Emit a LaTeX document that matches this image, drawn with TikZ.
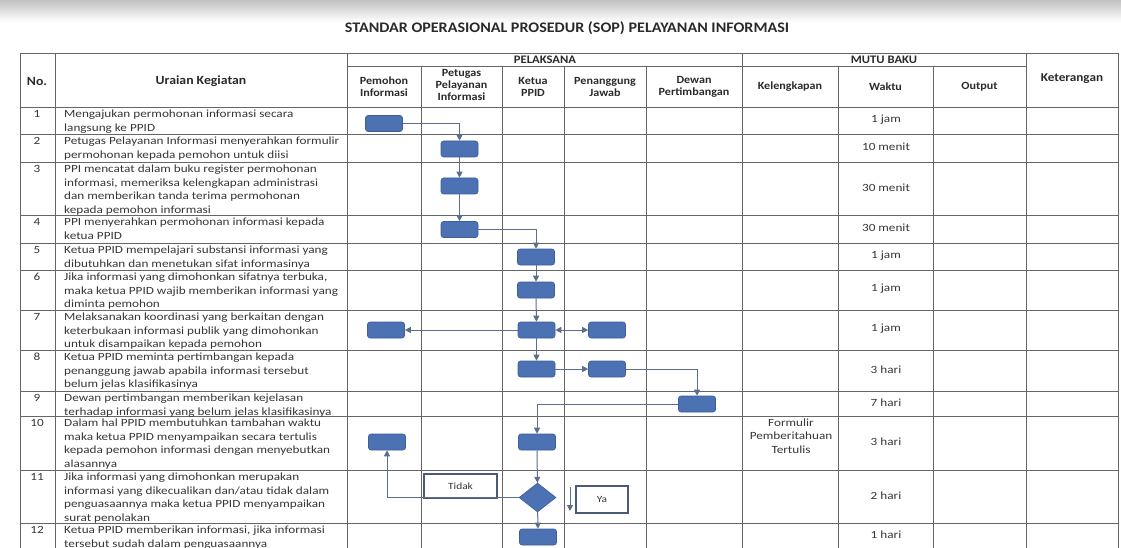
\documentclass[tikz,border=0pt]{standalone}
\usepackage{fontspec}
\setmainfont{Carlito}[FakeStretch=1.1]
\newfontfamily\bodyfont{Carlito}[FakeStretch=1.2]
\usetikzlibrary{arrows.meta,shapes.geometric}
\definecolor{boxblue}{HTML}{4C72B3}
\definecolor{boxedge}{HTML}{3D5E98}
\definecolor{conn}{HTML}{5C6E8C}
\definecolor{gridc}{HTML}{666666}
\definecolor{txt}{HTML}{363636}
\definecolor{hdr}{HTML}{2A2A2A}
\definecolor{labedge}{HTML}{4A5A78}
\begin{document}
\begin{tikzpicture}[x=1pt,y=-1pt,
  gridline/.style={draw=gridc,line width=0.8pt},
  hd/.style={font=\bfseries\fontsize{11}{11.7}\selectfont,text=hdr,align=center,inner sep=0},
  hdbig/.style={font=\bfseries\fontsize{12.5}{14}\selectfont,text=hdr,align=center,inner sep=0},
  ur/.style={font=\bodyfont\fontsize{11}{13.5}\selectfont,text=txt,align=left,anchor=north west,inner sep=0},
  num/.style={font=\bodyfont\fontsize{11}{13.5}\selectfont,text=txt,anchor=north,inner sep=0},
  wk/.style={font=\bodyfont\fontsize{11}{13.3}\selectfont,text=txt,align=center,inner sep=0},
  fbox/.style={rectangle,rounded corners=2.5pt,minimum width=37pt,minimum height=16pt,inner sep=0,fill=boxblue,draw=boxedge,line width=0.6pt},
  dec/.style={diamond,minimum width=37pt,minimum height=29pt,inner sep=0,fill=boxblue,draw=boxedge,line width=0.6pt},
  lab/.style={rectangle,draw=labedge,line width=1.4pt,fill=white,inner sep=0,font=\bodyfont\fontsize{9.5}{10}\selectfont,text=txt},
  arr/.style={draw=conn,line width=1pt,-{Triangle[length=6pt,width=6pt]}},
  darr/.style={draw=conn,line width=1pt,{Triangle[length=6pt,width=6pt]}-{Triangle[length=6pt,width=6pt]}}
]
\useasboundingbox (0,0) rectangle (1121,548);
\clip (0,0) rectangle (1121,548);
\shade[top color=black!24,bottom color=white] (0,0) rectangle (1121,22);

\node[font=\bfseries\fontsize{14.6}{16}\selectfont,text=hdr,inner sep=0] (title) at (567,28) {STANDAR OPERASIONAL PROSEDUR (SOP) PELAYANAN INFORMASI};

% grid
\draw[gridline] (20,53) -- (1118,53);
\draw[gridline] (347,66) -- (1026,66);
\foreach \yy in {107,134,162,215,243,270,310,350,391,416,470,523}
  \draw[gridline] (20,\yy) -- (1118,\yy);
\foreach \xx in {20,55,347,742,1026,1118}
  \draw[gridline] (\xx,53) -- (\xx,560);
\foreach \xx in {421,502,564,646,838,933}
  \draw[gridline] (\xx,66) -- (\xx,560);

% header
\node[hdbig] (hno) at (37,81) {No.};
\node[hdbig] (hur) at (201,81) {Uraian Kegiatan};
\node[hd,font=\bfseries\fontsize{11.5}{12}\selectfont] (hpel) at (545,60) {PELAKSANA};
\node[hd,font=\bfseries\fontsize{11.5}{12}\selectfont] (hmutu) at (884,60) {MUTU BAKU};
\node[hd] (hpem) at (384,87) {Pemohon\\Informasi};
\node[hd] (hpet) at (461.5,85) {Petugas\\Pelayanan\\Informasi};
\node[hd] (hket) at (533,87) {Ketua\\PPID};
\node[hd] (hpen) at (605,87) {Penanggung\\Jawab};
\node[hd] (hdew) at (694,87) {Dewan\\Pertimbangan};
\node[hd] (hkel) at (790,87) {Kelengkapan};
\node[hd] (hwak) at (885.5,87) {Waktu};
\node[hd] (hout) at (979.5,87) {Output};
\node[hdbig,font=\bfseries\fontsize{12}{14}\selectfont] (hktr) at (1072,79) {Keterangan};

% numbers
\node[num] (n1) at (37,110) {1};
\node[num] (n2) at (37,137) {2};
\node[num] (n3) at (37,165) {3};
\node[num] (n4) at (37,218) {4};
\node[num] (n5) at (37,246) {5};
\node[num] (n6) at (37,273) {6};
\node[num] (n7) at (37,313) {7};
\node[num] (n8) at (37,353) {8};
\node[num] (n9) at (37,394) {9};
\node[num] (n10) at (37,419) {10};
\node[num] (n11) at (37,473) {11};
\node[num] (n12) at (37,526) {12};

% descriptions
\node[ur] (u1) at (64,110) {Mengajukan permohonan informasi secara\\langsung ke PPID};
\node[ur] (u2) at (64,137) {Petugas Pelayanan Informasi menyerahkan formulir\\permohonan kepada pemohon untuk diisi};
\node[ur] (u3) at (64,165) {PPI mencatat dalam buku register permohonan\\informasi, memeriksa kelengkapan administrasi\\dan memberikan tanda terima permohonan\\kepada pemohon informasi};
\node[ur] (u4) at (64,218) {PPI menyerahkan permohonan informasi kepada\\ketua PPID};
\node[ur] (u5) at (64,246) {Ketua PPID mempelajari substansi informasi yang\\dibutuhkan dan menetukan sifat informasinya};
\node[ur] (u6) at (64,273) {Jika informasi yang dimohonkan sifatnya terbuka,\\maka ketua PPID wajib memberikan informasi yang\\diminta pemohon};
\node[ur] (u7) at (64,313) {Melaksanakan koordinasi yang berkaitan dengan\\keterbukaan informasi publik yang dimohonkan\\untuk disampaikan kepada pemohon};
\node[ur] (u8) at (64,353) {Ketua PPID meminta pertimbangan kepada\\penanggung jawab apabila informasi tersebut\\belum jelas klasifikasinya};
\node[ur] (u9) at (64,394) {Dewan pertimbangan memberikan kejelasan\\terhadap informasi yang belum jelas klasifikasinya};
\node[ur] (u10) at (64,419) {Dalam hal PPID membutuhkan tambahan waktu\\maka ketua PPID menyampaikan secara tertulis\\kepada pemohon informasi dengan menyebutkan\\alasannya};
\node[ur] (u11) at (64,473) {Jika informasi yang dimohonkan merupakan\\informasi yang dikecualikan dan/atau tidak dalam\\penguasaannya maka ketua PPID menyampaikan\\surat penolakan};
\node[ur] (u12) at (64,526) {Ketua PPID memberikan informasi, jika informasi\\tersebut sudah dalam penguasaannya};

% waktu
\node[wk] (w1) at (886,119.5) {1 jam};
\node[wk] (w2) at (886,147) {10 menit};
\node[wk] (w3) at (886,187.5) {30 menit};
\node[wk] (w4) at (886,228) {30 menit};
\node[wk] (w5) at (886,255.5) {1 jam};
\node[wk] (w6) at (886,289) {1 jam};
\node[wk] (w7) at (886,329) {1 jam};
\node[wk] (w8) at (886,369.5) {3 hari};
\node[wk] (w9) at (886,402.5) {7 hari};
\node[wk] (w10) at (886,442) {3 hari};
\node[wk] (w11) at (886,495.5) {2 hari};
\node[wk] (w12) at (886,535) {1 hari};
\node[wk] (k10) at (791,436) {Formulir\\Pemberitahuan\\Tertulis};

% flow boxes
\node[fbox] (b1) at (384,123.5) {};
\node[fbox] (b2) at (459.5,149) {};
\node[fbox] (b3) at (459.5,186) {};
\node[fbox] (b4) at (459.5,229.5) {};
\node[fbox] (b5) at (536,257) {};
\node[fbox] (b6) at (536,290) {};
\node[fbox] (b7l) at (386,330) {};
\node[fbox] (b7) at (536.5,330) {};
\node[fbox] (b7r) at (607,330) {};
\node[fbox] (b8) at (536.5,369) {};
\node[fbox] (b8r) at (607,369) {};
\node[fbox] (b9) at (697,404) {};
\node[fbox] (b10l) at (387,442) {};
\node[fbox] (b10) at (537,442) {};
\node[dec] (d11) at (537.5,497.5) {};
\node[fbox] (b12) at (538,537) {};
\node[lab,minimum width=73pt,minimum height=24pt] (tidak) at (460.5,486) {Tidak};
\node[lab,minimum width=52pt,minimum height=27pt] (ya) at (602,499.5) {Ya};
\coordinate (ya1) at (570,487);
\coordinate (ya2) at (570,511);

% connectors
\draw[arr] (b1.east) -| (b2.north);
\draw[arr] (b2) -- (b3);
\draw[arr] (b3) -- (b4);
\draw[arr] (b4.east) -| (b5.north);
\draw[arr] (b5) -- (b6);
\draw[arr] (b6) -- (b7);
\draw[arr] (b7) -- (b7l);
\draw[darr] (b7) -- (b7r);
\draw[arr] (b7) -- (b8);
\draw[arr] (b8) -- (b8r);
\draw[arr] (b8r.east) -| (b9.north);
\draw[arr] (b9.west) -| (b10.north);
\draw[arr] (b10) -- (d11);
\draw[arr] (d11) -- (b12);
\draw[arr] (d11.west) -| (b10l.south);
\draw[arr] (ya1) -- (ya2);
\end{tikzpicture}
\end{document}
